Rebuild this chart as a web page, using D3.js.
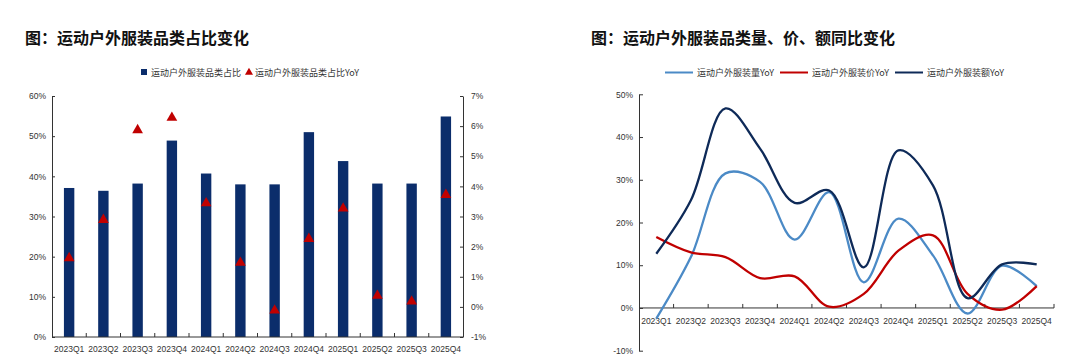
<!DOCTYPE html>
<html lang="zh">
<head>
<meta charset="UTF-8">
<script src="https://d3js.org/d3.v7.min.js"></script>
<style>
  body, html { margin: 0; padding: 0; background: #fff; }
  svg { display: block; font-family: "Liberation Sans", Arial, sans-serif; }
  .title { font-family: "Noto Sans CJK SC", sans-serif; font-weight: bold; font-size: 16px; fill: #111; }
  .legend text { font-family: "Noto Sans CJK SC", sans-serif; font-size: 9px; fill: #333; }
  .axis text { font-size: 8.5px; fill: #333; }
  .axis path, .axis line { stroke: #333; stroke-width: 1; }
</style>
</head>
<body>
<svg id="chart"></svg>
<script>
// categories
const quarters = ["2023Q1","2023Q2","2023Q3","2023Q4","2024Q1","2024Q2","2024Q3","2024Q4","2025Q1","2025Q2","2025Q3","2025Q4"];

// left chart: share (%) and share YoY (pct)
const shareValues = [37.1, 36.4, 38.2, 48.9, 40.7, 38.0, 38.0, 51.0, 43.8, 38.2, 38.2, 54.9];
const shareYoY    = [1.62, 2.89, 5.87, 6.28, 3.44, 1.47, -0.12, 2.26, 3.27, 0.37, 0.18, 3.72];
const leftTicks  = [0, 10, 20, 30, 40, 50, 60];
const rightTicks = [-1, 0, 1, 2, 3, 4, 5, 6, 7];

// right chart: volume / price / amount YoY (%)
const volumeYoY = [-2.5, 11.9, 31.5, 29.5, 16.0, 27.1, 6.0, 20.9, 12.3, -1.3, 9.9, 5.1];
const priceYoY  = [16.6, 13.0, 11.9, 7.0, 7.4, 0.3, 3.3, 13.4, 17.0, 3.3, -0.4, 5.1];
const amountYoY = [12.7, 25.2, 46.7, 37.3, 24.6, 27.5, 9.5, 36.9, 28.7, 2.3, 10.2, 10.2];
const yoyTicks = [-10, 0, 10, 20, 30, 40, 50];

const W = 1080, H = 359;
const svg = d3.select("#chart").attr("width", W).attr("height", H);

const navy = "#0b2d6b";
const red = "#c00000";
const lightBlue = "#4b8ac6";
const darkLine = "#0e2a58";

// ---------- left chart ----------
svg.append("text").attr("class", "title").attr("x", 25).attr("y", 44)
  .text("图：运动户外服装品类占比变化");

const xL = d3.scaleBand().domain(quarters).range([52, 463]);
const yL = d3.scaleLinear().domain([0, 60]).range([337, 96]);
const yR = d3.scaleLinear().domain([-1, 7]).range([337, 96]);

svg.append("g").selectAll("rect").data(quarters).enter().append("rect")
  .attr("x", d => xL(d) + xL.bandwidth() / 2 - 5.2)
  .attr("width", 10.4)
  .attr("y", (d, i) => yL(shareValues[i]))
  .attr("height", (d, i) => yL(0) - yL(shareValues[i]))
  .attr("fill", navy);

const tri = d3.symbol().type(d3.symbolTriangle).size(50);
svg.append("g").selectAll("path").data(quarters).enter().append("path")
  .attr("d", tri)
  .attr("transform", (d, i) => `translate(${xL(d) + xL.bandwidth() / 2},${yR(shareYoY[i])})`)
  .attr("fill", red);

// left y axis
svg.append("g").attr("class", "axis").attr("transform", "translate(52,0)")
  .call(d3.axisLeft(yL).tickValues(leftTicks).tickFormat(d => d + "%").tickSizeInner(-3).tickSizeOuter(0).tickPadding(6));
// right y axis
svg.append("g").attr("class", "axis").attr("transform", "translate(463,0)")
  .call(d3.axisRight(yR).tickValues(rightTicks).tickFormat(d => d + "%").tickSizeInner(-3).tickSizeOuter(0).tickPadding(8));
// bottom axis: ticks between categories
const gLx = svg.append("g").attr("class", "axis").attr("transform", `translate(0,${yL(0)})`);
gLx.append("line").attr("x1", 52).attr("x2", 463).attr("y1", 0).attr("y2", 0);
gLx.selectAll("line.t").data(quarters.slice(1)).enter().append("line").attr("class", "t")
  .attr("x1", d => xL(d)).attr("x2", d => xL(d)).attr("y1", 0).attr("y2", -4);
gLx.selectAll("text").data(quarters).enter().append("text")
  .attr("x", d => xL(d) + xL.bandwidth() / 2).attr("y", 15)
  .attr("text-anchor", "middle").text(d => d);

// left legend
const legL = svg.append("g").attr("class", "legend");
legL.append("rect").attr("x", 141).attr("y", 69).attr("width", 6).attr("height", 6).attr("fill", navy);
legL.append("text").attr("x", 151).attr("y", 76).text("运动户外服装品类占比");
legL.append("path").attr("d", d3.symbol().type(d3.symbolTriangle).size(28))
  .attr("transform", "translate(249,72.5)").attr("fill", red);
legL.append("text").attr("x", 255).attr("y", 76).text("运动户外服装品类占比YoY");

// ---------- right chart ----------
svg.append("text").attr("class", "title").attr("x", 591).attr("y", 44)
  .text("图：运动户外服装品类量、价、额同比变化");

const x2 = d3.scaleBand().domain(quarters).range([639, 1054]);
const y2 = d3.scaleLinear().domain([-10, 50]).range([350.7, 94.3]);

svg.append("g").attr("class", "axis").attr("transform", "translate(639,0)")
  .call(d3.axisLeft(y2).tickValues(yoyTicks).tickFormat(d => d + "%").tickSizeInner(-4).tickSizeOuter(0).tickPadding(6));

const gX2 = svg.append("g").attr("class", "axis").attr("transform", `translate(0,${y2(0)})`);
gX2.append("line").attr("x1", 639).attr("x2", 1054).attr("y1", 0).attr("y2", 0);
gX2.selectAll("line.t").data(quarters.slice(1).concat(["end"])).enter().append("line").attr("class", "t")
  .attr("x1", d => d === "end" ? 1054 : x2(d)).attr("x2", d => d === "end" ? 1054 : x2(d))
  .attr("y1", 0).attr("y2", -4);
gX2.selectAll("text").data(quarters).enter().append("text")
  .attr("x", d => x2(d) + x2.bandwidth() / 2).attr("y", 16)
  .attr("text-anchor", "middle").text(d => d);

const line = d3.line()
  .x((v, i) => x2(quarters[i]) + x2.bandwidth() / 2)
  .y(v => y2(v))
  .curve(d3.curveCatmullRom.alpha(0.5));

const series = [
  { name: "运动户外服装量YoY", values: volumeYoY, color: lightBlue },
  { name: "运动户外服装价YoY", values: priceYoY, color: red },
  { name: "运动户外服装额YoY", values: amountYoY, color: darkLine }
];

svg.append("g").selectAll("path").data(series).enter().append("path")
  .attr("d", s => line(s.values))
  .attr("fill", "none")
  .attr("stroke", s => s.color)
  .attr("stroke-width", 2.3);

// right legend
const legR = svg.append("g").attr("class", "legend");
const legX = [665, 780, 895];
series.forEach((s, i) => {
  legR.append("line").attr("x1", legX[i]).attr("x2", legX[i] + 28).attr("y1", 72.5).attr("y2", 72.5)
    .attr("stroke", s.color).attr("stroke-width", 2);
  legR.append("text").attr("x", legX[i] + 32).attr("y", 76).text(s.name);
});
</script>
</body>
</html>
